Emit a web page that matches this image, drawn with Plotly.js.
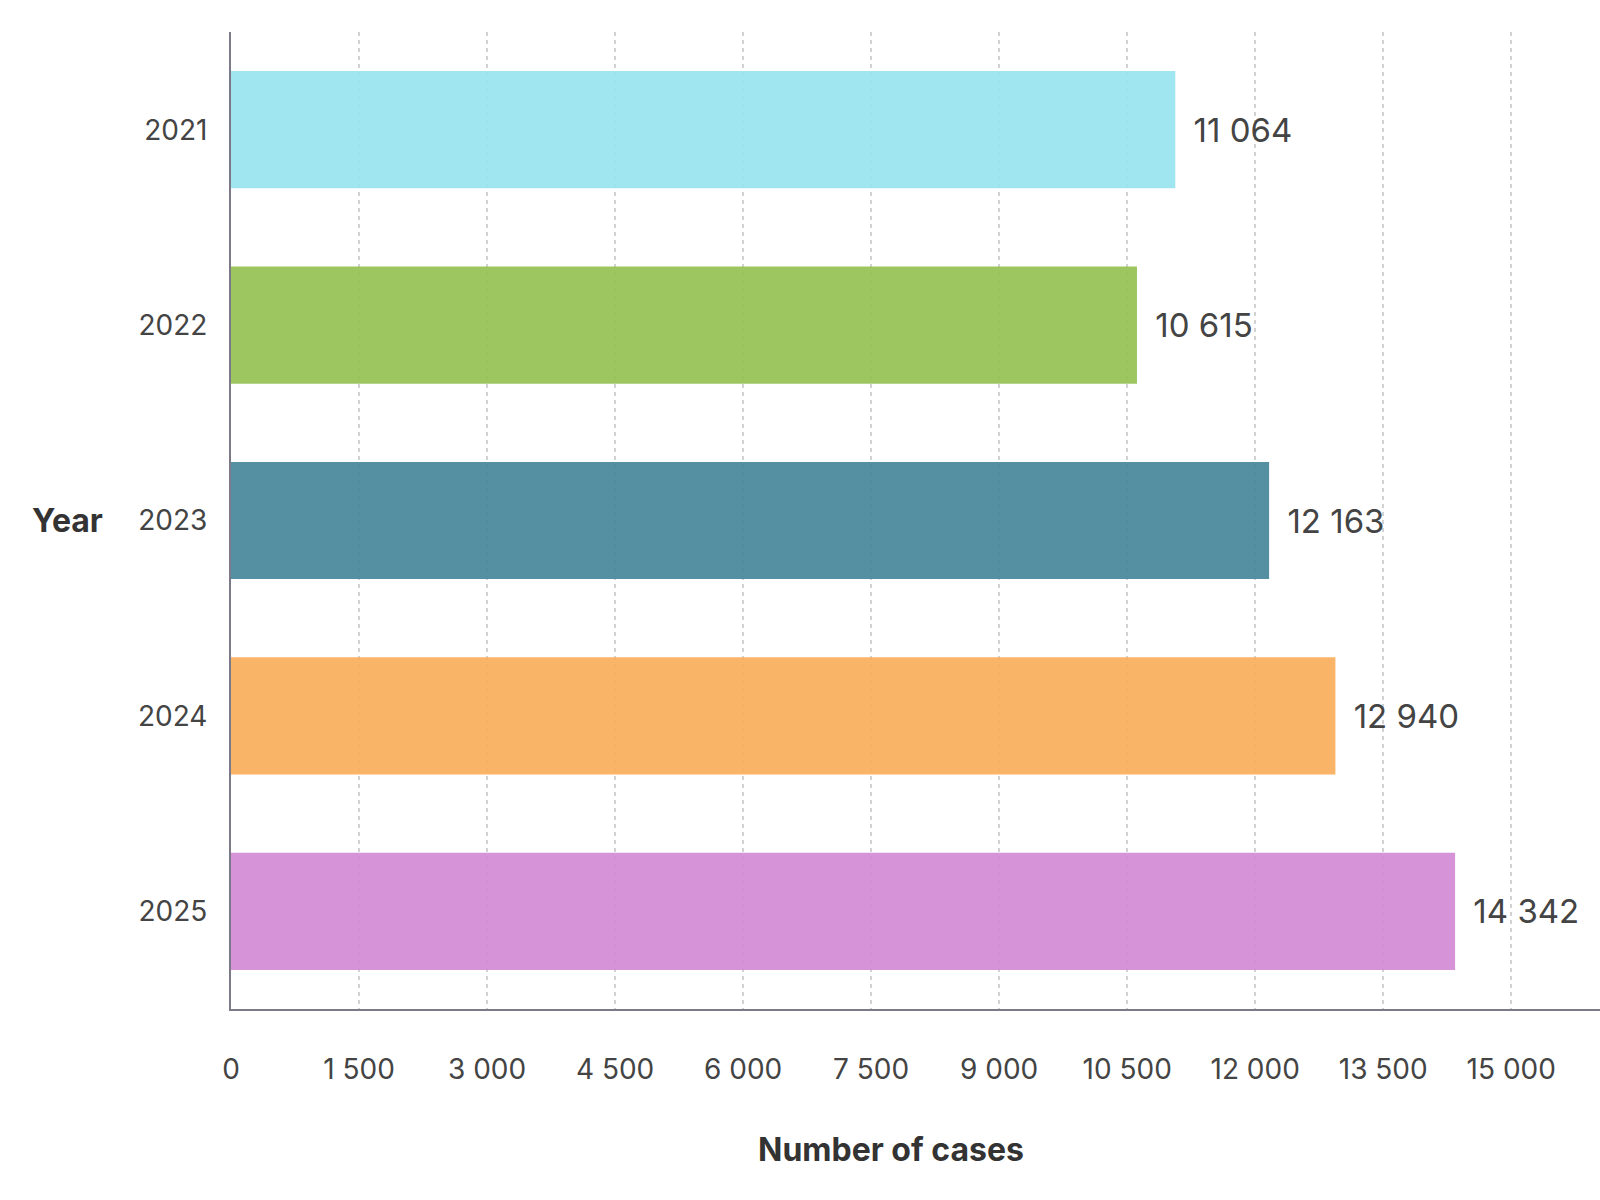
<!DOCTYPE html>
<html>
<head>
<meta charset="utf-8">
<script src="https://cdn.plot.ly/plotly-3.0.1.min.js"></script>
<style>
  html, body { margin: 0; padding: 0; background: #fff; }
  #chart { width: 1600px; height: 1200px; }
</style>
</head>
<body>
<div id="chart"></div>
<script>
const years = ['2021', '2022', '2023', '2024', '2025'];
const cases = [11064, 10615, 12163, 12940, 14342];
const barColors = ['#99e4ef', '#96c255', '#48879b', '#faae5d', '#d38bd5'];
const xTicks = [0, 1500, 3000, 4500, 6000, 7500, 9000, 10500, 12000, 13500, 15000];

const fontFamily = 'Inter, "Noto Sans", sans-serif';

var trace = {
  type: 'bar',
  orientation: 'h',
  x: cases,
  y: years,
  marker: {
    color: barColors,
    opacity: 0.93,
    line: { width: 0 }
  },
  texttemplate: '\u00a0\u2009%{x:,}',
  textposition: 'outside',
  cliponaxis: false,
  textfont: { family: fontFamily, size: 33, color: '#444444' },
  hoverinfo: 'none'
};

var layout = {
  width: 1600,
  height: 1200,
  margin: { l: 231, r: 0, t: 32, b: 191 },
  paper_bgcolor: '#ffffff',
  plot_bgcolor: '#ffffff',
  separators: '. ',
  showlegend: false,
  bargap: 0.4,
  font: { family: fontFamily, color: '#444444' },
  xaxis: {
    range: [0, 16040],
    tickvals: xTicks,
    tickformat: ',',
    ticks: '',
    ticklabelstandoff: 34,
    tickfont: { family: fontFamily, size: 28, color: '#444444' },
    showgrid: true,
    gridcolor: '#d2d2d2',
    gridwidth: 2,
    griddash: '4px,4px',
    zeroline: false,
    showline: true,
    linecolor: '#7c7a89',
    linewidth: 2
  },
  yaxis: {
    type: 'category',
    range: [4.5, -0.5],
    ticks: '',
    ticklabelstandoff: 16,
    tickfont: { family: fontFamily, size: 28, color: '#444444' },
    showgrid: false,
    zeroline: false,
    showline: true,
    linecolor: '#7c7a89',
    linewidth: 2
  },
  annotations: [
    {
      text: '<b>Year</b>',
      xref: 'paper', yref: 'paper',
      x: -0.1194, y: 0.5,
      xanchor: 'center', yanchor: 'middle',
      showarrow: false,
      font: { family: fontFamily, size: 32, color: '#333333' }
    },
    {
      text: '<b>Number of cases</b>',
      xref: 'paper', yref: 'paper',
      x: 0.482, y: -0.1433,
      xanchor: 'center', yanchor: 'middle',
      showarrow: false,
      font: { family: fontFamily, size: 32, color: '#333333' }
    }
  ]
};

window.addEventListener('load', (event) => {
  Plotly.newPlot('chart', [trace], layout, { displayModeBar: false, staticPlot: true });
});
</script>
</body>
</html>
